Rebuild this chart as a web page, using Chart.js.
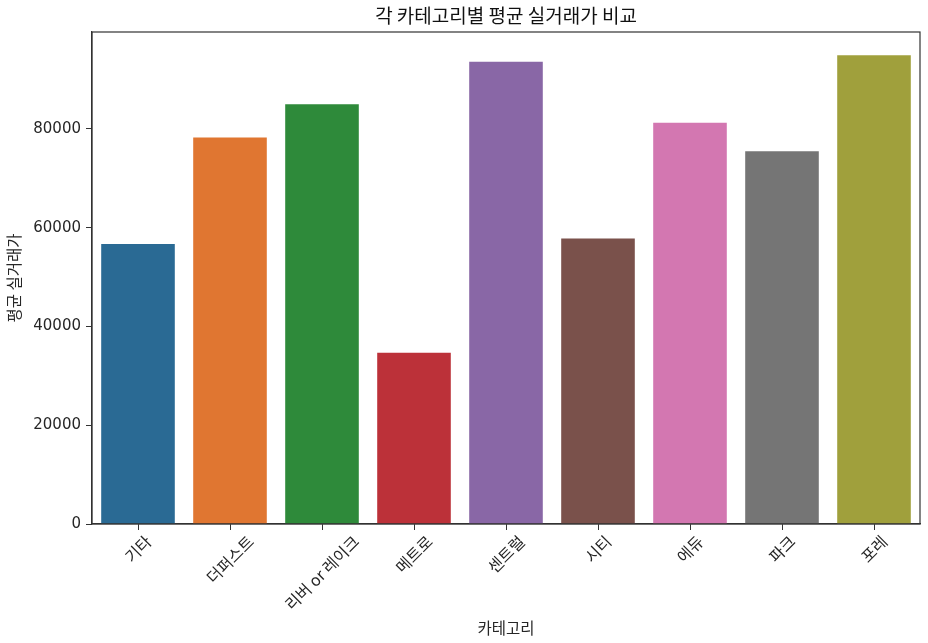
<!DOCTYPE html>
<html>
<head>
<meta charset="utf-8">
<script src="https://cdn.jsdelivr.net/npm/chart.js@4.4.1/dist/chart.umd.min.js"></script>
<style>
  html, body { margin: 0; padding: 0; background: #fff; }
  #wrap { width: 928px; height: 643px; }
</style>
</head>
<body>
<div id="wrap"><canvas id="chart_avgPrice"></canvas></div>
<script>
// categories and mean prices
const categories = ['기타', '더퍼스트', '리버 or 레이크', '메트로', '센트럴', '시티', '에듀', '파크', '포레'];
const avgPrices = [56660, 78220, 84970, 34680, 93590, 57800, 81250, 75470, 94880];
const yTicks = [0, 20000, 40000, 60000, 80000];
const barColors = ['#2a6a94', '#e07631', '#2e8a3a', '#bc3139', '#8967a6', '#7a514b', '#d377b1', '#757575', '#a0a03c'];

const textColor = '#262626';
const krFont = '"Noto Sans CJK KR", "Noto Sans", sans-serif';
const labelSize = 16;

// matplotlib style frame on all four sides + centred 45deg x labels
const framePlugin = {
  id: 'frame',
  afterDraw(chart) {
    const ctx = chart.ctx;
    const a = chart.chartArea;
    ctx.save();
    ctx.strokeStyle = '#333';
    ctx.lineWidth = 1.2;
    ctx.strokeRect(a.left, a.top, a.right - a.left, a.bottom - a.top);

    const xScale = chart.scales.x;
    ctx.font = labelSize + 'px ' + krFont;
    ctx.fillStyle = textColor;
    ctx.textAlign = 'center';
    ctx.textBaseline = 'middle';
    for (let i = 0; i < categories.length; i++) {
      const label = categories[i];
      const w = ctx.measureText(label).width;
      const boxH = (w + labelSize) * Math.SQRT1_2;
      const x = xScale.getPixelForTick(i);
      const y = a.bottom + 9 + boxH / 2;
      ctx.save();
      ctx.translate(x, y);
      ctx.rotate(-Math.PI / 4);
      ctx.fillText(label, 0, 0);
      ctx.restore();
    }
    ctx.restore();
  }
};

new Chart(document.getElementById('chart_avgPrice'), {
  type: 'bar',
  data: {
    labels: categories,
    datasets: [{
      label: '평균 실거래가',
      data: avgPrices,
      backgroundColor: barColors,
      borderWidth: 0,
      barPercentage: 0.8,
      categoryPercentage: 1.0
    }]
  },
  options: {
    responsive: true,
    maintainAspectRatio: false,
    animation: false,
    layout: { padding: { left: 0, right: 8, top: 0, bottom: 0 } },
    plugins: {
      legend: { display: false },
      tooltip: { enabled: false },
      title: {
        display: true,
        text: '각 카테고리별 평균 실거래가 비교',
        fullSize: false,
        color: '#111',
        font: { family: krFont, size: 19, weight: 'normal' },
        padding: { top: 4, bottom: 5.2 }
      }
    },
    scales: {
      x: {
        grid: { display: true, offset: false, drawOnChartArea: false, drawTicks: true, tickLength: 6, color: '#333' },
        border: { display: true, color: '#333', width: 1.2 },
        ticks: { display: false },
        title: {
          display: true,
          text: '카테고리',
          color: textColor,
          font: { family: krFont, size: 15.5 },
          padding: { top: 0, bottom: 6 }
        },
        afterFit(scale) { scale.height = 119; }
      },
      y: {
        min: 0,
        max: 99600,
        grid: { display: true, drawOnChartArea: false, drawTicks: true, tickLength: 6, color: '#333' },
        border: { display: true, color: '#333', width: 1.2 },
        afterBuildTicks(scale) {
          scale.ticks = yTicks.map(function (v) { return { value: v }; });
        },
        ticks: {
          color: textColor,
          padding: 5,
          font: { family: '"DejaVu Sans", sans-serif', size: 15 },
          callback: function (value) { return String(value); }
        },
        title: {
          display: true,
          text: '평균 실거래가',
          color: textColor,
          font: { family: krFont, size: 15.5 },
          padding: { top: 5, bottom: 0 }
        },
        afterFit(scale) { scale.width = 92; }
      }
    }
  },
  plugins: [framePlugin]
});
</script>
</body>
</html>
